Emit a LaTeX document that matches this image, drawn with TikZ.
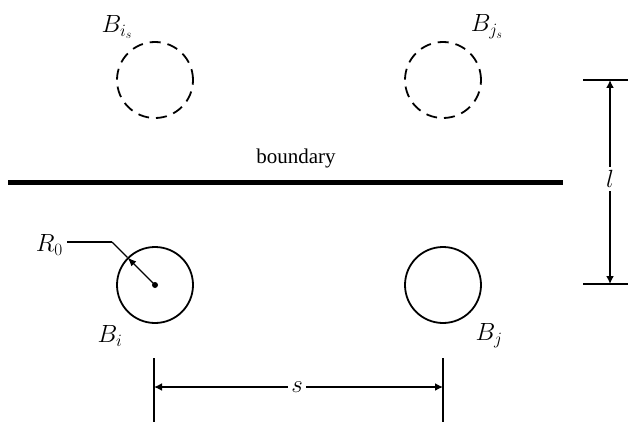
\documentclass[tikz,border=0pt]{standalone}
\usepackage{fontspec}
\setmainfont{Liberation Serif}
\usetikzlibrary{arrows.meta}
\begin{document}
\begin{tikzpicture}[x=1pt,y=-1pt,
  bubble/.style={draw,circle,minimum size=76pt,inner sep=0pt,line width=1.8pt},
  ghost/.style={bubble,dash pattern=on 11pt off 7pt},
  lbl/.style={font=\fontsize{26}{30}\selectfont,inner sep=1pt},
  txt/.style={font=\fontsize{21}{25}\selectfont,inner sep=1pt},
  dimline/.style={line width=2.8pt},
  dimarrow/.style={line width=2.8pt,{Latex[length=8pt,width=8pt]}-{Latex[length=8pt,width=8pt]}}]
\useasboundingbox (0,0) rectangle (628,425);
% bubbles
\node[ghost] (bis) at (155,80) {};
\node[ghost] (bjs) at (443,80) {};
\node[bubble] (bi) at (155,285) {};
\node[bubble] (bj) at (443,285) {};
% labels
\node[lbl] (lbis) at (117,27) {$B_{i_s}$};
\node[lbl] (lbjs) at (487,27) {$B_{j_s}$};
\node[lbl] (lbi) at (110,336) {$B_i$};
\node[lbl] (lbj) at (489,336) {$B_j$};
% boundary
\coordinate (b1) at (8,182);
\coordinate (b2) at (563,182);
\draw[line width=5pt] (b1) -- (b2);
\node[txt] (blab) at (296,158) {boundary};
% radius
\fill (bi.center) circle (3pt);
\coordinate (redge) at (bi.135);
\draw[line width=1.4pt,-{Latex[length=9pt,width=7pt]}] (bi.center) -- (redge);
\node[lbl,anchor=east] (r0) at (64,245) {$R_0$};
\coordinate (rk) at (112,242);
\draw[line width=2.6pt] (67,242) -- (rk);
\draw[line width=1.4pt] (rk) -- (redge);
% l dimension
\coordinate (lt) at (610,80);
\coordinate (lb) at (610,284);
\draw[dimline] (583,80) -- (628,80);
\draw[dimline] (583,284) -- (628,284);
\draw[dimarrow] (lt) -- (lb);
\node[lbl,fill=white,inner sep=3pt] (llab) at (610,179) {$l$};
% s dimension
\coordinate (sl) at (154,387);
\coordinate (sr) at (443,387);
\draw[dimline] (154,358) -- (154,422);
\draw[dimline] (443,358) -- (443,422);
\draw[dimarrow] (sl) -- (sr);
\node[lbl,fill=white,inner sep=3pt] (slab) at (297,387) {$s$};
\end{tikzpicture}
\end{document}
